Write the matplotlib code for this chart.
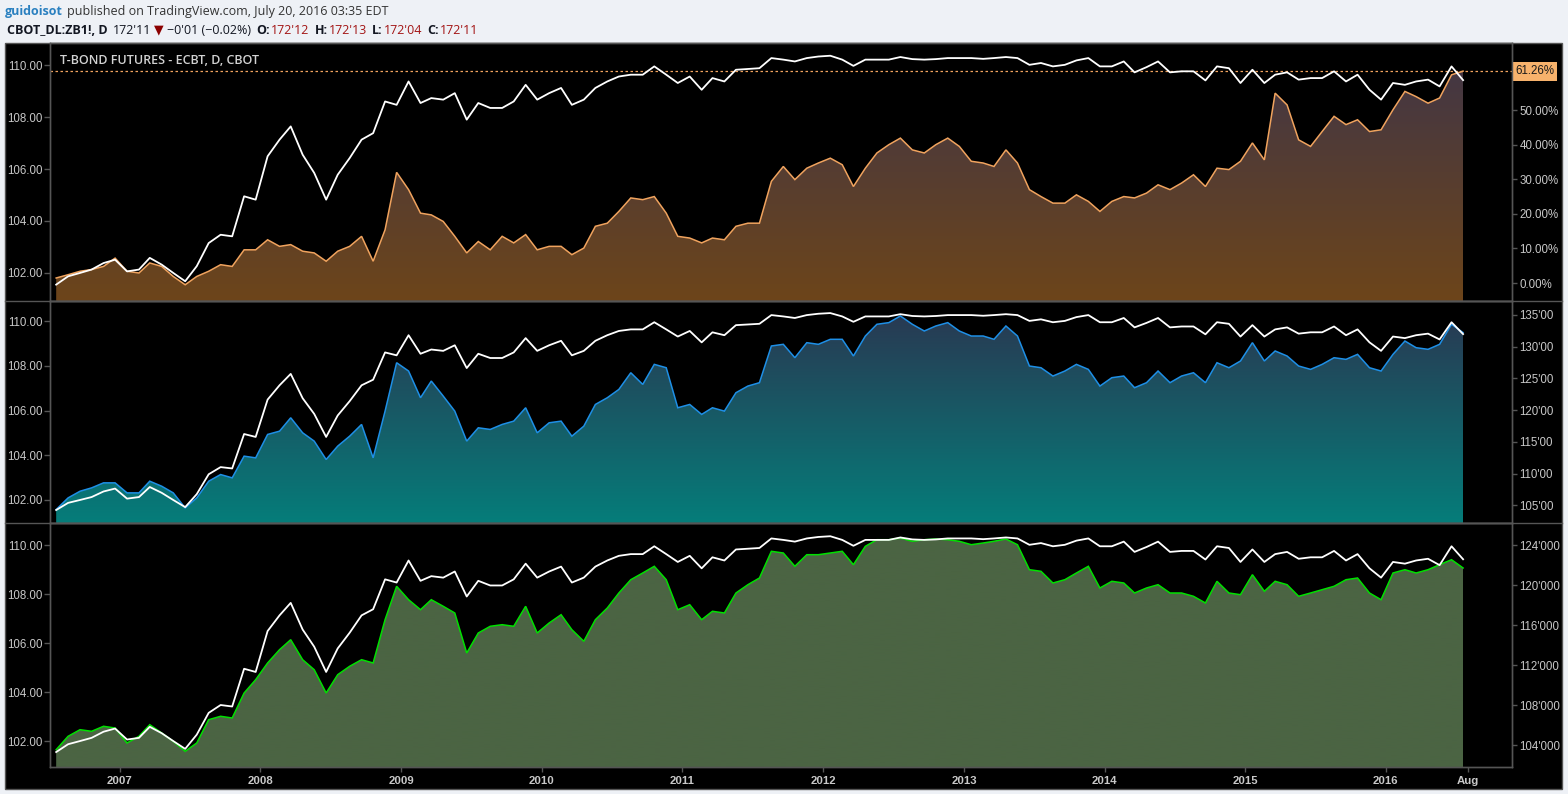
import numpy as np
import pandas as pd
import matplotlib
matplotlib.use('Agg')
import matplotlib.pyplot as plt
import matplotlib.dates as mdates
from matplotlib.patches import Rectangle, Polygon
from matplotlib.lines import Line2D
from matplotlib.colors import LinearSegmentedColormap

# monthly readings, Jul 2006 .. Jul 2016
months = pd.date_range('2006-07-20', periods=121, freq=pd.DateOffset(months=1))

ratio_line = [
    101.55, 101.87, 102.00, 102.13, 102.38, 102.51, 102.06, 102.13, 102.58, 102.32,
    102.00, 101.68, 102.26, 103.15, 103.47, 103.41, 104.95, 104.82, 106.49, 107.13,
    107.64, 106.55, 105.85, 104.82, 105.78, 106.42, 107.13, 107.38, 108.60, 108.47,
    109.37, 108.54, 108.73, 108.67, 108.92, 107.90, 108.54, 108.35, 108.35, 108.60,
    109.24, 108.67, 108.92, 109.12, 108.47, 108.67, 109.12, 109.37, 109.56, 109.63,
    109.63, 109.95, 109.63, 109.31, 109.56, 109.05, 109.50, 109.37, 109.82, 109.85,
    109.88, 110.27, 110.21, 110.14, 110.27, 110.33, 110.36, 110.21, 109.97, 110.21,
    110.21, 110.21, 110.31, 110.23, 110.21, 110.23, 110.27, 110.27, 110.27, 110.24,
    110.27, 110.31, 110.27, 110.01, 110.08, 109.95, 110.01, 110.18, 110.27, 109.95,
    109.95, 110.14, 109.72, 109.92, 110.14, 109.72, 109.76, 109.76, 109.41, 109.95,
    109.88, 109.31, 109.82, 109.31, 109.63, 109.72, 109.44, 109.50, 109.50, 109.76,
    109.37, 109.63, 109.05, 108.67, 109.31, 109.24, 109.37, 109.44, 109.18, 109.95,
    109.42]

pct_change = [
    1.45, 2.4, 3.4, 3.9, 4.8, 7.2, 3.4, 2.9, 5.8, 4.8,
    1.9, -0.5, 1.9, 3.4, 5.3, 4.8, 9.6, 9.6, 12.5, 10.6,
    11.1, 9.2, 8.7, 6.3, 9.2, 10.6, 13.5, 6.3, 15.4, 32.0,
    27.0, 20.2, 19.7, 17.8, 13.5, 8.7, 12.0, 9.6, 13.5, 11.6,
    14.0, 9.6, 10.6, 10.6, 8.2, 10.1, 16.4, 17.3, 20.7, 24.6,
    24.1, 25.0, 20.2, 13.5, 13.0, 11.6, 13.0, 12.5, 16.4, 17.3,
    17.3, 29.4, 33.7, 29.9, 33.2, 34.7, 36.1, 34.2, 27.9, 33.2,
    37.6, 40.0, 41.9, 38.5, 37.6, 40.0, 41.9, 39.5, 35.2, 34.7,
    33.7, 38.5, 34.7, 27.0, 25.0, 23.1, 23.1, 25.5, 23.6, 20.7,
    23.6, 25.0, 24.6, 26.0, 28.4, 27.0, 28.9, 31.3, 27.9, 33.2,
    32.8, 35.2, 40.5, 35.6, 54.9, 51.5, 41.4, 39.5, 43.8, 48.2,
    45.8, 47.2, 43.8, 44.3, 50.1, 55.4, 53.9, 52.0, 53.5, 60.2,
    61.26]

bond_price = [
    104.32, 106.16, 107.21, 107.74, 108.53, 108.53, 106.95, 106.95, 108.79, 108.00,
    106.95, 104.58, 106.16, 108.79, 109.84, 109.32, 112.74, 112.47, 116.16, 116.68,
    118.79, 116.42, 115.11, 112.21, 114.32, 115.89, 117.74, 112.47, 119.84, 127.47,
    126.16, 121.95, 124.58, 122.21, 119.84, 115.11, 117.21, 116.95, 117.74, 118.26,
    120.37, 116.42, 118.00, 118.26, 115.89, 117.47, 120.89, 121.95, 123.26, 125.89,
    124.05, 127.21, 126.68, 120.37, 120.89, 119.32, 120.37, 119.84, 122.74, 123.79,
    124.32, 130.11, 130.37, 128.26, 130.63, 130.37, 131.16, 131.16, 128.53, 131.68,
    133.53, 133.79, 134.84, 133.53, 132.47, 133.26, 133.79, 132.47, 131.68, 131.68,
    131.16, 133.26, 131.68, 126.95, 126.68, 125.37, 126.16, 127.21, 126.42, 123.79,
    125.11, 125.37, 123.53, 124.32, 126.16, 124.32, 125.37, 125.89, 124.32, 127.47,
    126.68, 127.74, 130.63, 127.74, 129.32, 128.53, 126.95, 126.42, 127.21, 128.26,
    128.00, 128.79, 126.68, 126.16, 128.79, 130.89, 129.84, 129.58, 130.37, 133.53,
    132.21]

note_price = [
    103.53, 104.87, 105.53, 105.37, 105.87, 105.70, 104.20, 104.87, 106.03, 105.20,
    104.37, 103.37, 104.20, 106.53, 106.87, 106.70, 109.20, 110.53, 112.20, 113.53,
    114.53, 112.53, 111.53, 109.20, 111.03, 111.87, 112.53, 112.20, 116.53, 119.87,
    118.53, 117.53, 118.53, 117.87, 117.20, 113.20, 115.20, 115.87, 116.03, 115.87,
    117.87, 115.20, 116.20, 117.03, 115.53, 114.37, 116.53, 117.70, 119.20, 120.53,
    121.20, 121.87, 120.53, 117.53, 118.03, 116.53, 117.37, 117.20, 119.20, 120.03,
    120.70, 123.37, 123.20, 121.87, 123.03, 123.03, 123.20, 123.37, 122.03, 123.87,
    124.53, 124.53, 124.70, 124.37, 124.53, 124.60, 124.53, 124.37, 124.03, 124.20,
    124.37, 124.60, 124.03, 121.53, 121.37, 120.20, 120.53, 121.20, 121.87, 119.70,
    120.37, 120.20, 119.20, 119.70, 120.03, 119.20, 119.20, 118.87, 118.20, 120.37,
    119.20, 119.03, 121.03, 119.37, 120.37, 120.03, 118.87, 119.20, 119.53, 119.87,
    120.53, 120.70, 119.20, 118.53, 121.20, 121.53, 121.20, 121.53, 122.03, 122.53,
    121.70]

year_ticks = [str(y) for y in range(2007, 2017)] + ['Aug']
last_pct = 61.26

W, H = 1568, 794
BG = '#eef1f6'
GRID = '#555555'
TXT = '#c8c8c8'

fig = plt.figure(figsize=(W / 100, H / 100), dpi=100, facecolor=BG)

def fx(px):
    return px / W

def fy(py):
    return 1 - py / H

# black chart box
fig.add_artist(Rectangle((fx(5), fy(789)), fx(1562) - fx(5), fy(43) - fy(789),
                         transform=fig.transFigure, facecolor='black',
                         edgecolor=GRID, lw=1, zorder=-10))
for yy in (301, 523):
    fig.add_artist(Line2D([fx(5), fx(1562)], [fy(yy), fy(yy)], color=GRID, lw=1,
                          transform=fig.transFigure, zorder=5))

x = mdates.date2num(months)
xlim = (mdates.date2num(pd.Timestamp('2006-07-04')), mdates.date2num(pd.Timestamp('2016-11-24')))

panels = [
    dict(top=43, bot=301, left_lim=(100.92, 110.85), right_lim=(-5.2, 69.4), vals=pct_change,
         line='#f0a35e', c_top='#3f3548', c_bot='#6d451a',
         rticks=[0, 10, 20, 30, 40, 50], rfmt=lambda v: f'{v:.2f}%'),
    dict(top=301, bot=523, left_lim=(100.97, 110.9), right_lim=(102.2, 137.2), vals=bond_price,
         line='#1e8fe6', c_top='#2b3550', c_bot='#057d7a',
         rticks=[105, 110, 115, 120, 125, 130, 135], rfmt=lambda v: f"{int(v)}'00"),
    dict(top=523, bot=767, left_lim=(100.94, 110.9), right_lim=(101.8, 126.2), vals=note_price,
         line='#00e000', c_top='#4b6443', c_bot='#4b6443',
         rticks=[104, 108, 112, 116, 120, 124], rfmt=lambda v: f"{int(v)}'000"),
]

axes = []
for i, p in enumerate(panels):
    ax = fig.add_axes([fx(50), fy(p['bot']), (1512 - 50) / W, (p['bot'] - p['top']) / H])
    tw = ax.twinx()
    ax.set_zorder(tw.get_zorder() + 1)
    ax.patch.set_visible(False)
    tw.patch.set_visible(True)
    tw.patch.set_facecolor('black')

    ylo, yhi = p['right_lim']
    vals = np.array(p['vals'])
    verts = np.column_stack([np.r_[x[0], x, x[-1]], np.r_[ylo, vals, ylo]])
    poly = Polygon(verts, closed=True, facecolor='none', edgecolor='none')
    tw.add_patch(poly)
    cmap = LinearSegmentedColormap.from_list('g', [p['c_bot'], p['c_top']])
    grad = np.linspace(0, 1, 256).reshape(-1, 1)
    im = tw.imshow(grad, extent=[x[0], x[-1], ylo, yhi], origin='lower', aspect='auto',
                   cmap=cmap, interpolation='bilinear')
    im.set_clip_path(poly)
    tw.plot(x, vals, color=p['line'], lw=1.1, solid_joinstyle='miter')

    ax.plot(x, ratio_line, color='white', lw=1.3)

    for a in (ax, tw):
        a.set_xlim(xlim)
        for s in a.spines.values():
            s.set_color(GRID)
            s.set_linewidth(1)
    ax.set_ylim(p['left_lim'])
    tw.set_ylim(p['right_lim'])

    ax.set_yticks([102, 104, 106, 108, 110])
    ax.set_yticklabels([f'{v:.2f}' for v in [102, 104, 106, 108, 110]])
    tw.set_yticks(p['rticks'])
    tw.set_yticklabels([p['rfmt'](v) for v in p['rticks']])
    ax.tick_params(axis='y', colors=GRID, labelcolor=TXT, length=4.5, width=1, pad=1,
                   labelsize=8.3, labelfontfamily='Liberation Sans')
    tw.tick_params(axis='y', colors=GRID, labelcolor=TXT, length=3.5, width=1, pad=2,
                   labelsize=8.3, labelfontfamily='Liberation Sans')

    if i < 2:
        ax.set_xticks([])
    else:
        tick_dates = [pd.Timestamp(f'{y}-01-01') for y in range(2007, 2017)] + [pd.Timestamp('2016-08-01')]
        ax.set_xticks(mdates.date2num(tick_dates))
        ax.set_xticklabels(year_ticks)
        ax.tick_params(axis='x', colors=GRID, labelcolor=TXT, length=3.5, width=1, pad=3,
                       labelsize=8.2)
        for t in ax.get_xticklabels():
            t.set_fontfamily(['Liberation Sans Narrow', 'Liberation Sans'])
            t.set_fontweight('bold')
    axes.append((ax, tw))

# top panel extras
ax1, tw1 = axes[0]
ax1.annotate('T-BOND FUTURES - ECBT, D, CBOT', xy=(0, 1), xycoords='axes fraction',
             xytext=(10, -17), textcoords='offset pixels', ha='left', va='center',
             fontsize=9.0, fontweight='semibold', family='Open Sans', color='#d2d2d2')
tw1.axhline(last_pct, color='#f0a35e', ls=(0, (2, 2)), lw=0.9)
tw1.annotate(f'{last_pct:.2f}%', xy=(1, last_pct), xycoords=('axes fraction', 'data'),
             xytext=(3, 0), textcoords='offset pixels', ha='left', va='center',
             fontsize=8.3, family='Liberation Sans', color='#1a1a1a', annotation_clip=False,
             bbox=dict(boxstyle='square,pad=0.3', fc='#f7b26c', ec='none'), zorder=10)

# header rows
renderer = fig.canvas.get_renderer()

def text_row(x_px, y_px, pieces, size):
    xp = x_px
    for txt, color, weight, fam, gap in pieces:
        t = fig.text(fx(xp), fy(y_px), txt, color=color, fontweight=weight, family=fam,
                     fontsize=size, ha='left', va='center')
        bb = t.get_window_extent(renderer=renderer)
        xp = bb.x1 + gap

DARK = '#131722'
RED = '#a31515'
OS = 'Open Sans'
text_row(5, 12, [
    ('guidoisot', '#2a80c0', 'bold', OS, 4),
    ('published on TradingView.com, July 20, 2016 03:35 EDT', '#333333', 'normal', OS, 0),
], 9.0)
text_row(7, 30, [
    ('CBOT_DL:ZB1!, D', DARK, 'bold', OS, 5),
    ("172'11", DARK, 'normal', OS, 3),
    ('\u25bc', '#8b0000', 'normal', 'DejaVu Sans', 3),
    ('\u22120\'01 (\u22120.02%)', DARK, 'normal', OS, 6),
    ('O:', DARK, 'bold', OS, 1),
    ("172'12", RED, 'normal', OS, 5),
    ('H:', DARK, 'bold', OS, 1),
    ("172'13", RED, 'normal', OS, 5),
    ('L:', DARK, 'bold', OS, 1),
    ("172'04", RED, 'normal', OS, 5),
    ('C:', DARK, 'bold', OS, 1),
    ("172'11", RED, 'normal', OS, 0),
], 9.0)

fig.savefig('out.png', dpi=100, facecolor=BG)
